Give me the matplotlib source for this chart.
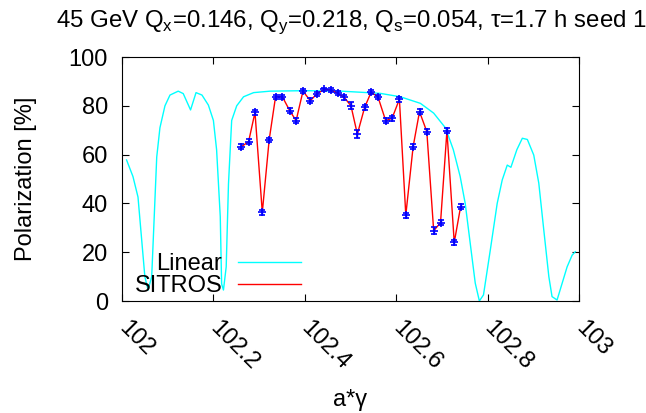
import matplotlib
matplotlib.use("Agg")
import matplotlib.pyplot as plt

plt.rcParams['font.family'] = ['Liberation Sans', 'DejaVu Sans']

# linear calculation
lin_a = [102.010, 102.024, 102.035, 102.050, 102.057, 102.065, 102.076, 102.083,
         102.094, 102.105, 102.123, 102.134, 102.150, 102.162, 102.175, 102.189,
         102.200, 102.207, 102.215, 102.218, 102.222, 102.228, 102.233, 102.240,
         102.251, 102.266, 102.288, 102.324, 102.400, 102.480, 102.565, 102.609,
         102.653, 102.682, 102.708, 102.725, 102.740, 102.751, 102.762, 102.773,
         102.782, 102.791, 102.806, 102.821, 102.832, 102.843, 102.851, 102.864,
         102.876, 102.887, 102.901, 102.912, 102.923, 102.934, 102.941, 102.952,
         102.963, 102.974, 102.985, 102.992]
lin_p = [57.8, 51.0, 42.6, 10.0, 4.5, 10.0, 59.0, 71.0,
         80.0, 84.4, 86.0, 85.0, 78.3, 85.4, 84.4, 80.3,
         74.0, 62.0, 34.6, 7.0, 4.5, 14.0, 48.0, 74.0,
         80.0, 83.7, 85.4, 86.0, 86.2, 86.0, 85.1, 83.7,
         81.0, 77.0, 70.9, 62.0, 51.0, 40.0, 23.6, 7.3,
         0.0, 2.5, 21.0, 40.0, 49.6, 55.7, 54.8, 62.0,
         66.7, 66.2, 59.8, 48.3, 29.0, 10.0, 1.8, 0.4,
         7.2, 14.0, 18.8, 20.2]

# SITROS tracking results
sit_a = [102.261, 102.277, 102.291, 102.307, 102.322, 102.336, 102.351, 102.367,
         102.381, 102.396, 102.412, 102.426, 102.442, 102.457, 102.472, 102.486,
         102.501, 102.515, 102.531, 102.545, 102.560, 102.577, 102.591, 102.607,
         102.621, 102.637, 102.651, 102.667, 102.682, 102.697, 102.711, 102.727,
         102.741]
sit_p = [63.2, 65.3, 77.3, 36.3, 66.0, 83.7, 83.7, 78.0,
         73.9, 86.0, 82.1, 84.8, 86.7, 86.5, 85.1, 83.5,
         80.0, 68.4, 79.4, 85.5, 83.7, 73.9, 74.9, 82.7,
         35.2, 63.2, 77.6, 69.4, 28.8, 32.1, 69.7, 24.0,
         38.7]
sit_err = [1.0, 1.0, 1.0, 1.0, 1.0, 0.8, 0.8, 1.0,
           1.0, 0.8, 1.0, 0.8, 0.8, 0.8, 0.8, 1.0,
           1.5, 1.5, 1.0, 0.8, 0.8, 1.0, 1.0, 1.0,
           1.0, 1.0, 1.0, 1.0, 1.5, 1.0, 1.0, 1.0,
           1.0]

fs = 17

fig = plt.figure(figsize=(6.46, 4.13), dpi=100)
ax = fig.add_axes([122 / 646, 1 - 301 / 413, 457 / 646, 244 / 413])

ax.plot(lin_a, lin_p, color='cyan', lw=1.0, label='Linear')
ax.plot(sit_a, sit_p, color='red', lw=1.0, label='SITROS')
ax.errorbar(sit_a, sit_p, yerr=sit_err, fmt='+', color='blue', ms=6, mew=1.2,
            elinewidth=1.0, capsize=2.5, zorder=3)

ax.set_xlim(102, 103)
ax.set_ylim(0, 100)
ax.set_xticks([102, 102.2, 102.4, 102.6, 102.8, 103])
ax.set_xticklabels(['102', '102.2', '102.4', '102.6', '102.8', '103'])
ax.set_yticks([0, 20, 40, 60, 80, 100])
ax.tick_params(direction='in', top=True, right=True, labelsize=fs, length=5)
ax.tick_params(axis='y', pad=10)
for lab in ax.get_xticklabels():
    lab.set_rotation(-45)
    lab.set_ha('left')
    lab.set_va('center')
    lab.set_rotation_mode('anchor')
ax.tick_params(axis='x', pad=17)

ax.set_xlabel('a*γ', fontsize=fs)
ax.xaxis.set_label_coords(0.5, (301 - 400) / 244)
ax.xaxis.label.set_va('center')
ax.set_ylabel('Polarization [%]', fontsize=fs)
ax.yaxis.set_label_coords((26 - 122) / 457, 0.5)
ax.yaxis.label.set_va('center')

fig.text(56 / 646, 1 - 27 / 413,
         '45 GeV Q$_\\mathregular{x}$=0.146, Q$_\\mathregular{y}$=0.218, '
         'Q$_\\mathregular{s}$=0.054, τ=1.7 h seed 1', fontsize=17.3, va='baseline')

ax.legend(loc='upper right', bbox_to_anchor=((301 - 122) / 457, (301 - 253) / 244),
          frameon=False, markerfirst=False, fontsize=fs, handlelength=2.65,
          handletextpad=0.68, labelspacing=0.02, borderpad=0, borderaxespad=0)

fig.savefig('out.png', dpi=100)
